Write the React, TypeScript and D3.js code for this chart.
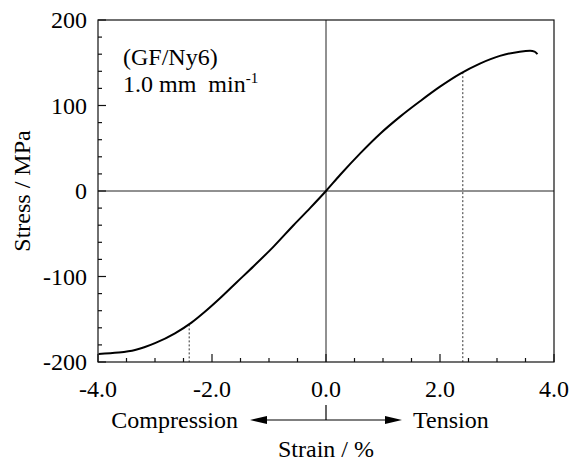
import { useEffect, useRef } from 'react';
import * as d3 from 'd3';

// stress-strain curve
const strain = [-3.99, -3.64, -3.35, -3.0, -2.65, -2.36, -2.12, -1.86, -1.57, -1.27, -0.92, -0.57, -0.28, 0, 0.25, 0.6, 0.95, 1.3, 1.65, 2.0, 2.35, 2.7, 3.05, 3.4, 3.58, 3.66, 3.71];
const stress = [-190.5, -189, -186, -178, -166.5, -154, -141, -125.5, -107, -88, -65, -40, -20, 0, 19, 44, 67, 87, 105, 122, 137, 149, 158, 163, 164, 163, 160];

// dotted drop lines (strain, stress at curve)
const dropStrain = [-2.4, 2.4];
const dropStress = [-156, 139];

const xTickLabels = ['-4.0', '-2.0', '0.0', '2.0', '4.0'];
const xMajor = [-4, -2, 0, 2, 4];
const yMajor = [-200, -100, 0, 100, 200];

const W = 569;
const H = 463;
const FONT = 'Liberation Serif';

function StressStrainChart() {
  const svgRef = useRef<SVGSVGElement | null>(null);

  useEffect(() => {
    const svg = d3.select(svgRef.current);
    svg.selectAll('*').remove();

    const margin = { top: 20, right: 15, bottom: 101, left: 98 };
    const innerW = W - margin.left - margin.right;
    const innerH = H - margin.top - margin.bottom;

    const x = d3.scaleLinear().domain([-4, 4]).range([0, innerW]);
    const y = d3.scaleLinear().domain([-200, 200]).range([innerH, 0]);

    const g = svg.append('g').attr('transform', `translate(${margin.left},${margin.top})`);

    // zero lines
    g.append('line')
      .attr('x1', 0).attr('x2', innerW)
      .attr('y1', y(0)).attr('y2', y(0))
      .attr('stroke', '#222').attr('stroke-width', 1);
    g.append('line')
      .attr('x1', x(0)).attr('x2', x(0))
      .attr('y1', 0).attr('y2', innerH)
      .attr('stroke', '#222').attr('stroke-width', 1);

    // dotted drop lines
    dropStrain.forEach((s, i) => {
      g.append('line')
        .attr('x1', x(s)).attr('x2', x(s))
        .attr('y1', y(dropStress[i])).attr('y2', innerH)
        .attr('stroke', '#333').attr('stroke-width', 1)
        .attr('stroke-dasharray', '2,2');
    });

    // frame
    g.append('rect')
      .attr('x', 0).attr('y', 0)
      .attr('width', innerW).attr('height', innerH)
      .attr('fill', 'none').attr('stroke', '#111').attr('stroke-width', 1.2);

    // inward ticks
    y.ticks(20).forEach(v => {
      const major = yMajor.includes(v);
      g.append('line')
        .attr('x1', 0).attr('x2', major ? 8 : 4)
        .attr('y1', y(v)).attr('y2', y(v))
        .attr('stroke', '#111').attr('stroke-width', 1.2);
    });
    x.ticks(16).forEach(v => {
      const major = xMajor.includes(v);
      g.append('line')
        .attr('x1', x(v)).attr('x2', x(v))
        .attr('y1', innerH).attr('y2', innerH - (major ? 8 : 4))
        .attr('stroke', '#111').attr('stroke-width', 1.2);
    });

    // tick labels
    g.selectAll('.ylab')
      .data(yMajor)
      .enter().append('text')
      .attr('class', 'ylab')
      .attr('x', -11)
      .attr('y', d => y(d))
      .attr('dy', '0.35em')
      .attr('text-anchor', 'end')
      .style('font-family', FONT)
      .attr('font-size', 24)
      .text(d => String(d));

    g.selectAll('.xlab')
      .data(xMajor)
      .enter().append('text')
      .attr('class', 'xlab')
      .attr('x', d => x(d))
      .attr('y', innerH + 35)
      .attr('text-anchor', 'middle')
      .style('font-family', FONT)
      .attr('font-size', 24)
      .text((d, i) => xTickLabels[i]);

    // curve
    const pts = strain.map((s, i) => [s, stress[i]] as [number, number]);
    const line = d3.line<[number, number]>()
      .x(d => x(d[0]))
      .y(d => y(d[1]))
      .curve(d3.curveMonotoneX);
    g.append('path')
      .attr('d', line(pts))
      .attr('fill', 'none')
      .attr('stroke', '#000')
      .attr('stroke-width', 2);

    // annotation
    g.append('text')
      .attr('x', 25).attr('y', 45)
      .style('font-family', FONT).attr('font-size', 24)
      .text('(GF/Ny6)');
    const t2 = g.append('text')
      .attr('x', 25).attr('y', 72)
      .style('font-family', FONT).attr('font-size', 24);
    t2.append('tspan').text('1.0 mm');
    t2.append('tspan').attr('dx', 12).text('min');
    t2.append('tspan').attr('font-size', 15).attr('dy', -9).text('-1');

    // y title
    svg.append('text')
      .attr('transform', `translate(30,${margin.top + y(0)}) rotate(-90)`)
      .attr('text-anchor', 'middle')
      .style('font-family', FONT).attr('font-size', 24)
      .text('Stress / MPa');

    // direction arrow
    const cx = margin.left + x(0);
    const ay = 420;
    const half = 76;
    svg.append('line')
      .attr('x1', cx - half + 10).attr('x2', cx + half - 10)
      .attr('y1', ay).attr('y2', ay)
      .attr('stroke', '#000').attr('stroke-width', 1.2);
    svg.append('line')
      .attr('x1', cx).attr('x2', cx)
      .attr('y1', ay - 15).attr('y2', ay)
      .attr('stroke', '#000').attr('stroke-width', 1.2);
    svg.append('path')
      .attr('d', `M${cx - half},${ay} L${cx - half + 17},${ay - 4} L${cx - half + 17},${ay + 4} Z`)
      .attr('fill', '#000');
    svg.append('path')
      .attr('d', `M${cx + half},${ay} L${cx + half - 17},${ay - 4} L${cx + half - 17},${ay + 4} Z`)
      .attr('fill', '#000');

    svg.append('text')
      .attr('x', cx - half - 12).attr('y', ay + 8)
      .attr('text-anchor', 'end')
      .style('font-family', FONT).attr('font-size', 24)
      .text('Compression');
    svg.append('text')
      .attr('x', cx + half + 11).attr('y', ay + 8)
      .style('font-family', FONT).attr('font-size', 24)
      .text('Tension');

    svg.append('text')
      .attr('x', cx).attr('y', 457)
      .attr('text-anchor', 'middle')
      .style('font-family', FONT).attr('font-size', 24)
      .text('Strain / %');
  }, []);

  return (
    <svg
      ref={svgRef}
      width={W}
      height={H}
      style={{ position: 'absolute', left: 0, top: 0, background: '#fff' }}
    />
  );
}

export default function App() {
  return <StressStrainChart />;
}
